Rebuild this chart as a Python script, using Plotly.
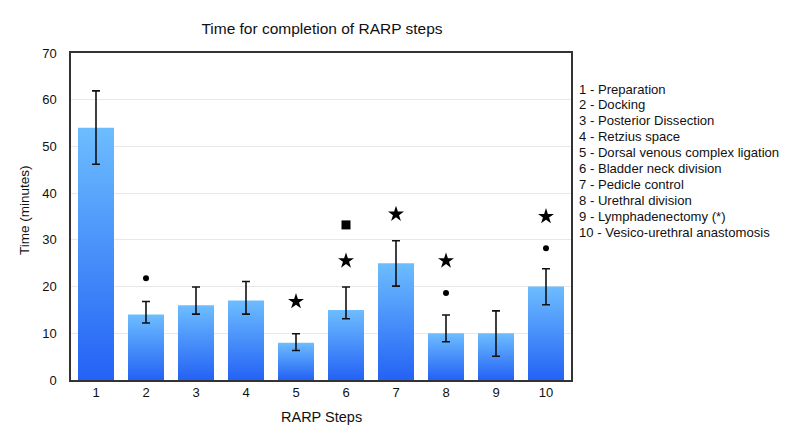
import plotly.graph_objects as go

steps = [1, 2, 3, 4, 5, 6, 7, 8, 9, 10]
mean_time = [54, 14, 16, 17, 8, 15, 25, 10, 10, 20]
err_plus = [7.9, 2.8, 3.9, 4.1, 1.9, 4.9, 4.8, 3.9, 4.8, 3.8]
err_minus = [7.8, 1.8, 1.9, 2.9, 1.7, 1.9, 4.9, 1.8, 4.9, 3.9]

legend_labels = [
    "1 - Preparation",
    "2 - Docking",
    "3 - Posterior Dissection",
    "4 - Retzius space",
    "5 - Dorsal venous complex ligation",
    "6 - Bladder neck division",
    "7 - Pedicle control",
    "8 - Urethral division",
    "9 - Lymphadenectomy (*)",
    "10 - Vesico-urethral anastomosis",
]

dot_x = [2, 8, 10]
dot_y = [21.8, 18.6, 28.2]
star_x = [5, 6, 7, 8, 10]
star_y = [16.8, 25.5, 35.5, 25.5, 35.0]
square_x = [6]
square_y = [33.2]

BAR_HALF = 0.36
FONT = "Liberation Sans, Arial, Helvetica, sans-serif"

# page has an 8px body margin; figure coordinates are compensated
OFF = 8
W, H = 793, 439
PLOT_L, PLOT_R, PLOT_T, PLOT_B = 71 - OFF, 571 - OFF, 53 - OFF, 380 - OFF
PLOT_H = PLOT_B - PLOT_T

fig = go.Figure()

for s, v in zip(steps, mean_time):
    fig.add_trace(go.Scatter(
        x=[s - BAR_HALF, s + BAR_HALF, s + BAR_HALF, s - BAR_HALF, s - BAR_HALF],
        y=[0, 0, v, v, 0],
        mode="lines",
        line=dict(width=0, color="rgba(0,0,0,0)"),
        fill="toself",
        fillgradient=dict(
            type="vertical",
            start=0,
            stop=v,
            colorscale=[[0, "#2462f5"], [1, "#6dbdff"]],
        ),
        hoverinfo="skip",
        showlegend=False,
    ))

fig.add_trace(go.Scatter(
    x=steps, y=mean_time, mode="markers",
    marker=dict(size=1, color="rgba(0,0,0,0)"),
    error_y=dict(type="data", symmetric=False, array=err_plus, arrayminus=err_minus,
                 color="#111111", thickness=1.6, width=4),
    showlegend=False,
))

fig.add_trace(go.Scatter(x=dot_x, y=dot_y, mode="markers",
                         marker=dict(symbol="circle", size=6, color="black"), showlegend=False))
fig.add_trace(go.Scatter(x=star_x, y=star_y, mode="markers",
                         marker=dict(symbol="star", size=12, color="black"), showlegend=False))
fig.add_trace(go.Scatter(x=square_x, y=square_y, mode="markers",
                         marker=dict(symbol="square", size=9, color="black"), showlegend=False))

LINE_STEP = 15.9
FIRST_LINE = 89 - OFF
for i, lab in enumerate(legend_labels):
    ypix = FIRST_LINE + i * LINE_STEP
    fig.add_annotation(
        text=lab, xref="paper", yref="paper",
        x=1 + (577 - 571) / (PLOT_R - PLOT_L), y=1 - (ypix - PLOT_T) / PLOT_H,
        xanchor="left", yanchor="middle", align="left", showarrow=False,
        font=dict(family=FONT, size=13.1, color="#111111"),
    )

fig.add_annotation(
    text="Time (minutes)", xref="paper", yref="paper",
    x=-(PLOT_L - (25 - OFF)) / (PLOT_R - PLOT_L), y=1 - ((210 - OFF) - PLOT_T) / PLOT_H,
    xanchor="center", yanchor="middle", textangle=-90, showarrow=False,
    font=dict(family=FONT, size=13.5, color="#111111"),
)
fig.add_annotation(
    text="RARP Steps", xref="paper", yref="paper",
    x=0.5, y=-((417 - OFF) - PLOT_B) / PLOT_H,
    xanchor="center", yanchor="middle", showarrow=False,
    font=dict(family=FONT, size=14.5, color="#111111"),
)

fig.update_layout(
    width=W, height=H,
    margin=dict(l=PLOT_L, r=W - PLOT_R, t=PLOT_T, b=H - PLOT_B, autoexpand=False),
    paper_bgcolor="white", plot_bgcolor="white",
    font=dict(family=FONT, size=13, color="#111111"),
    title=dict(text="Time for completion of RARP steps", x=(322 - OFF) / W, xref="container",
               xanchor="center", y=1 - (29 - OFF) / H, yref="container", yanchor="middle",
               font=dict(family=FONT, size=15.5, color="#111111")),
    xaxis=dict(range=[0.5, 10.5], tickmode="array", tickvals=steps,
               ticktext=[str(s) for s in steps], showgrid=False, zeroline=False,
               showline=True, linecolor="#333333", linewidth=1.5, mirror=True,
               ticks="", automargin=False),
    yaxis=dict(range=[0, 70], dtick=10, showgrid=True, gridcolor="#e8e8e8",
               zeroline=False, showline=True, linecolor="#333333", linewidth=1.5,
               mirror=True, ticks="", ticklabelstandoff=10, automargin=False),
)

fig.write_html("out.html")
